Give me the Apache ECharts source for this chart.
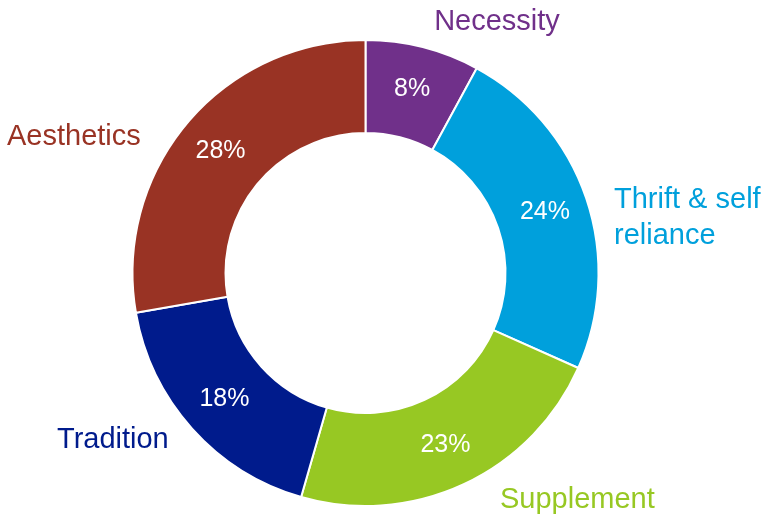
<!DOCTYPE html>
<html>
<head>
<meta charset="utf-8">
<style>
  html, body { margin: 0; padding: 0; background: #ffffff; }
  #chart { width: 764px; height: 523px; }
</style>
<script src="https://cdn.jsdelivr.net/npm/echarts@6/dist/echarts.min.js"></script>
</head>
<body>
<div id="chart"></div>
<script>
// Share of respondents by motivation, clockwise from 12 o'clock
const categories = ['Necessity', 'Thrift & self\nreliance', 'Supplement', 'Tradition', 'Aesthetics'];
const shares = [8, 24, 23, 18, 28];
const sliceColors = ['#70308a', '#00a0dc', '#97c823', '#001b8c', '#993324'];

// Where each category name sits around the ring
const nameSpots = {
  'Necessity':               { x: 497, y: 22,  align: 'center' },
  'Thrift & self\nreliance': { x: 614, y: 218, align: 'left' },
  'Supplement':              { x: 500, y: 500, align: 'left' },
  'Tradition':               { x: 57,  y: 440, align: 'left' },
  'Aesthetics':              { x: 7,   y: 137, align: 'left' }
};

const data = categories.map((name, i) => ({
  name: name,
  value: shares[i],
  itemStyle: { color: sliceColors[i] }
}));

const chart = echarts.init(document.getElementById('chart'), null, { renderer: 'canvas' });
const font = '"Liberation Sans", Arial, sans-serif';

chart.setOption({
  animation: false,
  series: [
    {
      type: 'pie',
      center: [365.5, 273],
      radius: [140, 233],
      startAngle: 90,
      clockwise: true,
      data: data,
      itemStyle: { borderColor: '#ffffff', borderWidth: 2 },
      label: {
        show: true,
        position: 'inside',
        formatter: p => p.value + '%',
        color: '#ffffff',
        fontFamily: font,
        fontSize: 25
      },
      labelLine: { show: false },
      emphasis: { disabled: true }
    },
    {
      type: 'pie',
      center: [365.5, 273],
      radius: [140, 233],
      startAngle: 90,
      clockwise: true,
      silent: true,
      data: data.map(d => ({
        name: d.name,
        value: d.value,
        itemStyle: { color: 'rgba(0,0,0,0)' },
        label: { color: d.itemStyle.color }
      })),
      label: {
        show: true,
        position: 'outside',
        formatter: p => p.name,
        fontFamily: font,
        fontSize: 29,
        lineHeight: 36,
        overflow: 'none',
        width: 300
      },
      labelLine: { show: false },
      labelLayout: params => {
        const s = nameSpots[categories[params.dataIndex]];
        return { x: s.x, y: s.y, align: s.align, verticalAlign: 'middle' };
      },
      emphasis: { disabled: true }
    }
  ]
});
</script>
</body>
</html>
